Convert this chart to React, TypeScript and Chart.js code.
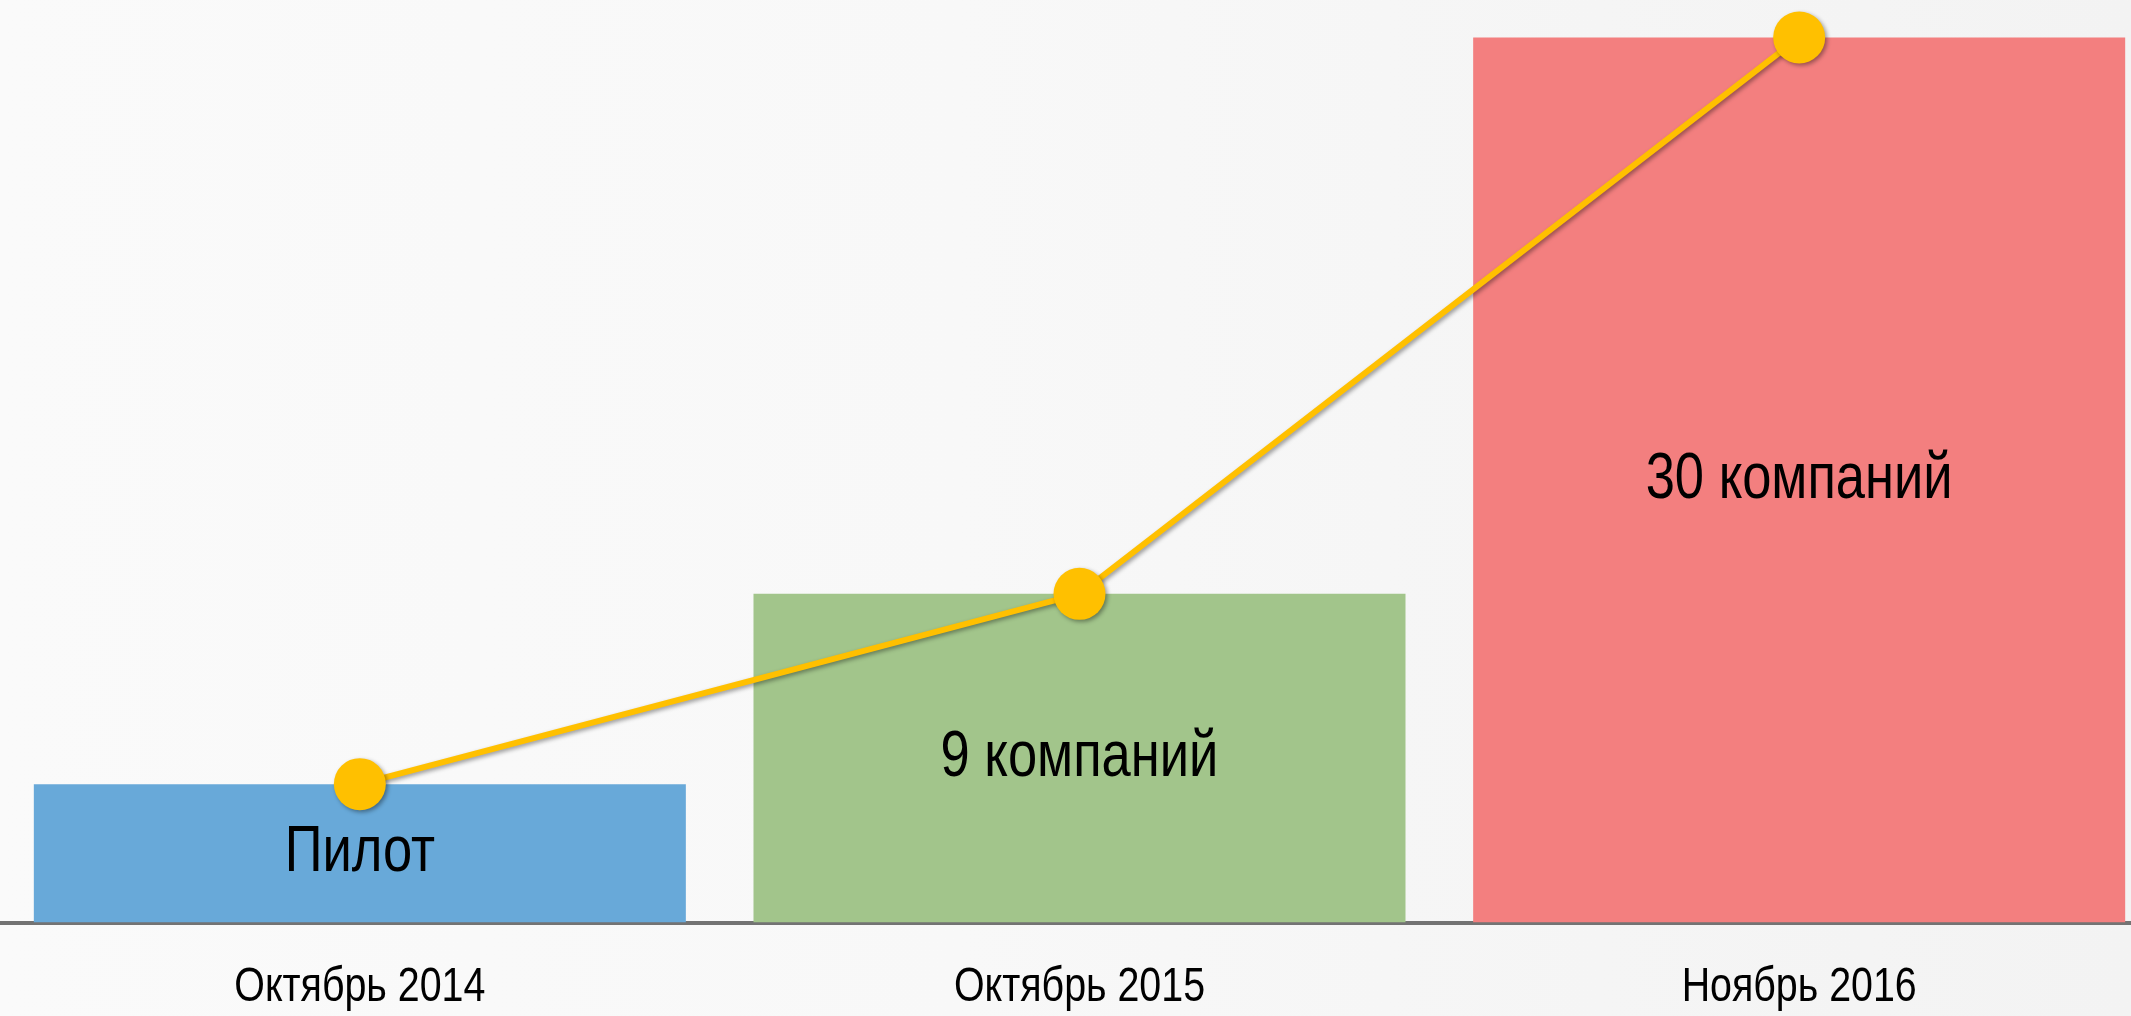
import React, { useEffect, useRef } from "react";
import { Chart, registerables } from "chart.js";

Chart.register(...registerables);

// ---- data ----
const categories = ["Октябрь 2014", "Октябрь 2015", "Ноябрь 2016"];
const barValues = [4.8, 11.4, 30.7];
const lineValues = [4.8, 11.4, 30.7];
const barLabels = ["Пилот", "9 компаний", "30 компаний"];
const barColors = ["#68A9D9", "#A2C58B", "#F37F7F"];
const yMax = 32;

const FONT = "'Liberation Sans', Arial, sans-serif";
const NARROW = 0.82; // emulate Arial Narrow by horizontal compression

function drawNarrowText(ctx: CanvasRenderingContext2D, text: string, x: number, y: number, size: number) {
  ctx.save();
  ctx.font = `${size}px ${FONT}`;
  ctx.fillStyle = "#000000";
  ctx.textAlign = "center";
  ctx.textBaseline = "middle";
  ctx.translate(x, y);
  ctx.scale(NARROW, 1);
  ctx.fillText(text, 0, 0);
  ctx.restore();
}

const lineShadowPlugin = {
  id: "lineShadow",
  beforeDatasetDraw(chart: any, args: any) {
    const ds = chart.data.datasets[args.index];
    if (ds.type === "line") {
      const ctx = chart.ctx;
      ctx.save();
      ctx.shadowColor = "rgba(0,0,0,0.38)";
      ctx.shadowBlur = 4;
      ctx.shadowOffsetX = 2;
      ctx.shadowOffsetY = 2;
    }
  },
  afterDatasetDraw(chart: any, args: any) {
    const ds = chart.data.datasets[args.index];
    if (ds.type === "line") {
      chart.ctx.restore();
    }
  },
};

const barLabelPlugin = {
  id: "barLabels",
  afterDatasetDraw(chart: any, args: any) {
    const ds = chart.data.datasets[args.index];
    if (ds.type !== "bar") return;
    const meta = chart.getDatasetMeta(args.index);
    meta.data.forEach((el: any, i: number) => {
      const p = el.getProps(["x", "y", "base"], true);
      drawNarrowText(chart.ctx, barLabels[i], p.x, (p.y + p.base) / 2, 64);
    });
  },
};

const categoryLabelPlugin = {
  id: "categoryLabels",
  afterDraw(chart: any) {
    const xScale = chart.scales.x;
    const y = chart.chartArea.bottom + 65.5;
    categories.forEach((c, i) => {
      drawNarrowText(chart.ctx, c, xScale.getPixelForValue(i), y, 48);
    });
  },
};

export default function App() {
  const ref = useRef<HTMLCanvasElement | null>(null);

  useEffect(() => {
    if (!ref.current) return;
    const chart = new Chart(ref.current, {
      type: "bar",
      data: {
        labels: categories,
        datasets: [
          {
            type: "bar",
            data: barValues,
            backgroundColor: barColors,
            borderWidth: 0,
            categoryPercentage: 1,
            barPercentage: 0.906,
            order: 1,
          } as any,
          {
            type: "line",
            data: lineValues,
            borderColor: "#FFC000",
            borderWidth: 6,
            pointRadius: 26,
            pointHoverRadius: 26,
            pointBackgroundColor: "#FFC000",
            pointBorderColor: "#FFC000",
            pointBorderWidth: 0,
            tension: 0,
            clip: false,
            order: 0,
          } as any,
        ],
      },
      options: {
        responsive: false,
        animation: false,
        devicePixelRatio: 1,
        layout: { padding: { left: 0, right: 0, top: 0, bottom: 93.5 }, autoPadding: false },
        plugins: {
          legend: { display: false },
          tooltip: { enabled: false },
        },
        scales: {
          x: {
            grid: { display: false, drawTicks: false },
            border: { display: true, color: "#737373", width: 4 },
            ticks: { display: false },
          },
          y: {
            display: false,
            min: 0,
            max: yMax,
          },
        },
      } as any,
      plugins: [lineShadowPlugin, barLabelPlugin, categoryLabelPlugin],
    });
    return () => chart.destroy();
  }, []);

  return (
    <div
      style={{
        position: "fixed",
        left: 0,
        top: 0,
        width: 2131,
        height: 1016,
        overflow: "hidden",
        background:
          "linear-gradient(90deg, #fafafa 0%, #f8f8f8 45%, #f5f5f5 75%, #f3f3f3 100%)",
      }}
    >
      <canvas ref={ref} width={2159} height={1016} style={{ display: "block" }} />
    </div>
  );
}
